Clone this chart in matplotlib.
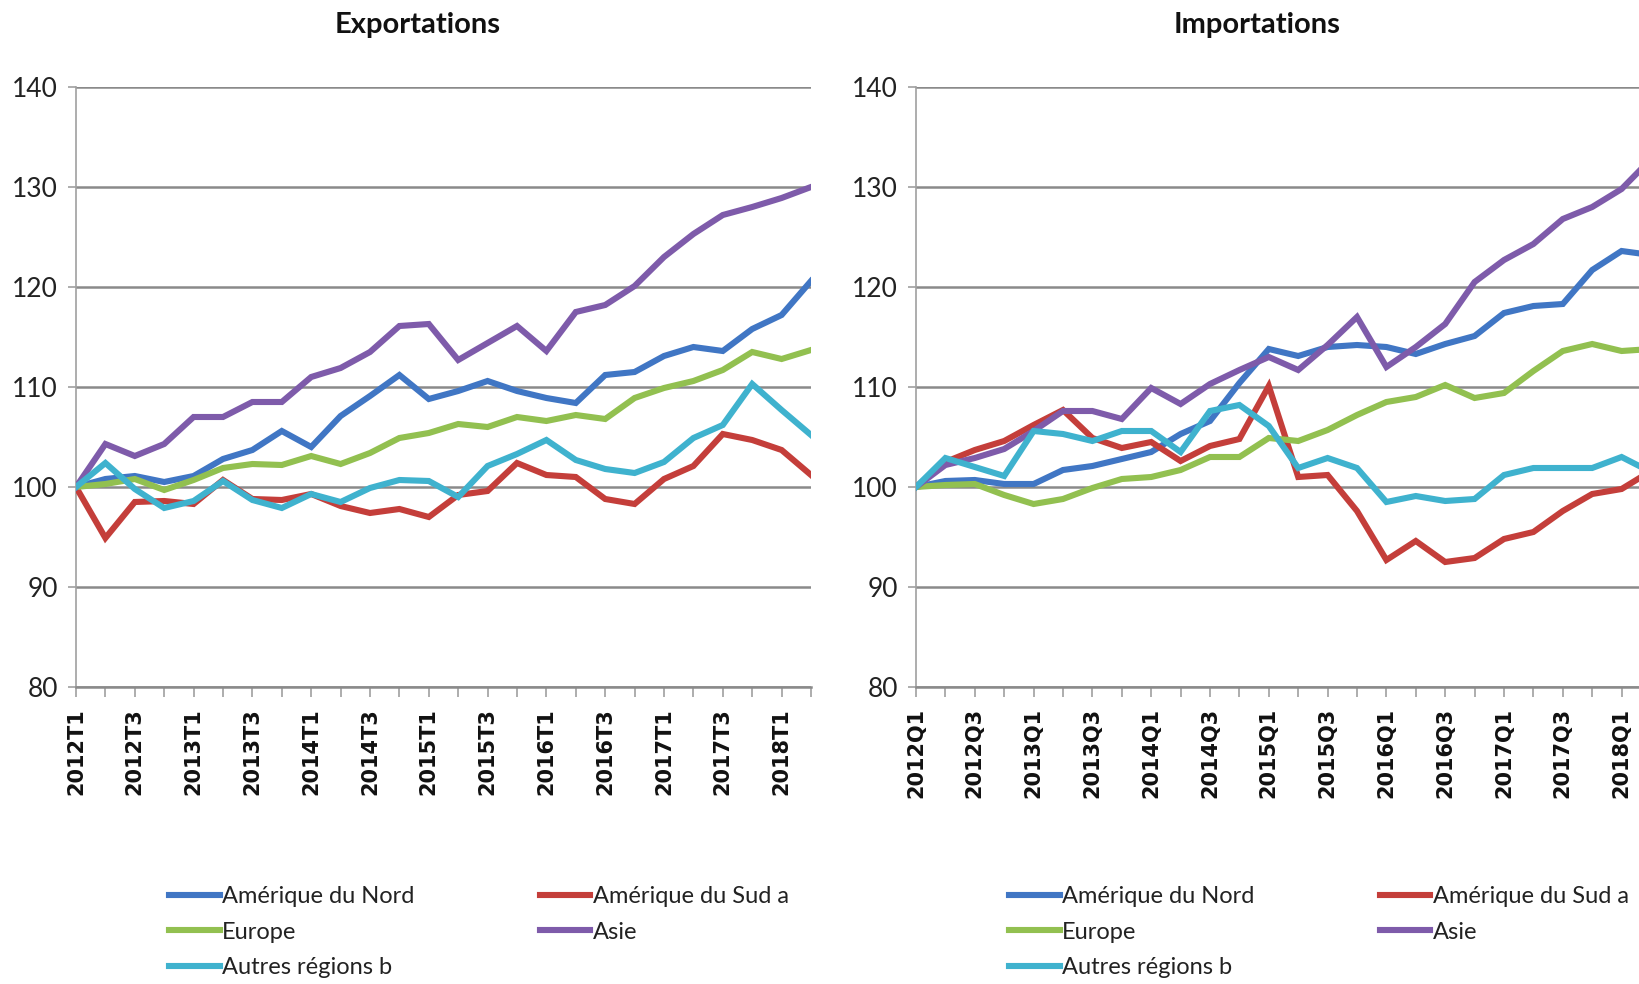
import matplotlib
matplotlib.use("Agg")
import matplotlib.pyplot as plt
import numpy as np

# quarters 2012Q1 .. 2018Q2
N_Q = 26
labels_t = ["2012T1", "2012T3", "2013T1", "2013T3", "2014T1", "2014T3", "2015T1",
            "2015T3", "2016T1", "2016T3", "2017T1", "2017T3", "2018T1"]
labels_q = ["2012Q1", "2012Q3", "2013Q1", "2013Q3", "2014Q1", "2014Q3", "2015Q1",
            "2015Q3", "2016Q1", "2016Q3", "2017Q1", "2017Q3", "2018Q1"]

series_names = ["Amérique du Nord", "Amérique du Sud a", "Europe", "Asie", "Autres régions b"]

# Exportations
exp_nord = [100, 100.8, 101.1, 100.5, 101.1, 102.8, 103.7, 105.6, 104.0, 107.1, 109.1, 111.2, 108.8,
            109.6, 110.6, 109.6, 108.9, 108.4, 111.2, 111.5, 113.1, 114.0, 113.6, 115.8, 117.2, 120.6]
exp_sud = [100, 94.9, 98.5, 98.6, 98.3, 100.7, 98.8, 98.7, 99.3, 98.1, 97.4, 97.8, 97.0,
           99.2, 99.6, 102.4, 101.2, 101.0, 98.8, 98.3, 100.8, 102.1, 105.3, 104.7, 103.7, 101.2]
exp_europe = [100, 100.3, 100.8, 99.7, 100.7, 101.9, 102.3, 102.2, 103.1, 102.3, 103.4, 104.9, 105.4,
              106.3, 106.0, 107.0, 106.6, 107.2, 106.8, 108.9, 109.9, 110.6, 111.7, 113.5, 112.8, 113.7]
exp_asie = [100, 104.3, 103.1, 104.3, 107.0, 107.0, 108.5, 108.5, 111.0, 111.9, 113.5, 116.1, 116.3,
            112.7, 114.4, 116.1, 113.6, 117.5, 118.2, 120.1, 123.0, 125.3, 127.2, 128.0, 128.9, 130.0]
exp_autres = [100, 102.4, 99.8, 97.9, 98.6, 100.6, 98.7, 97.9, 99.3, 98.5, 99.9, 100.7, 100.6,
              99.0, 102.1, 103.3, 104.7, 102.7, 101.8, 101.4, 102.5, 104.9, 106.2, 110.3, 107.7, 105.2]

# Importations
imp_nord = [100, 100.6, 100.7, 100.3, 100.3, 101.7, 102.1, 102.8, 103.5, 105.3, 106.6, 110.4, 113.8,
            113.1, 114.0, 114.2, 114.0, 113.3, 114.3, 115.1, 117.4, 118.1, 118.3, 121.7, 123.6, 123.2]
imp_sud = [100, 102.5, 103.7, 104.6, 106.2, 107.7, 104.9, 103.9, 104.5, 102.6, 104.1, 104.8, 110.1,
           101.0, 101.2, 97.6, 92.7, 94.6, 92.5, 92.9, 94.8, 95.5, 97.6, 99.3, 99.8, 101.6]
imp_europe = [100, 100.2, 100.3, 99.2, 98.3, 98.8, 99.9, 100.8, 101.0, 101.7, 103.0, 103.0, 104.9,
              104.6, 105.7, 107.2, 108.5, 109.0, 110.2, 108.9, 109.4, 111.6, 113.6, 114.3, 113.6, 113.8]
imp_asie = [100, 102.2, 102.9, 103.8, 105.6, 107.6, 107.6, 106.8, 109.9, 108.3, 110.3, 111.7, 113.0,
            111.7, 114.2, 117.0, 112.0, 114.0, 116.3, 120.5, 122.7, 124.3, 126.8, 128.0, 129.8, 132.8]
imp_autres = [100, 102.9, 102.0, 101.1, 105.6, 105.3, 104.6, 105.6, 105.6, 103.5, 107.6, 108.2, 106.1,
              101.9, 102.9, 101.9, 98.5, 99.1, 98.6, 98.8, 101.2, 101.9, 101.9, 101.9, 103.0, 101.5]

COLORS = ["#4076C4", "#C43E3A", "#92C050", "#7E5BAA", "#3FB2CE"]
SANS = "Lato"
GRID = "#8a8a8a"

W, H = 1639, 984
fig = plt.figure(figsize=(W / 100, H / 100), dpi=100)

panels = [
    ("Exportations", [exp_nord, exp_sud, exp_europe, exp_asie, exp_autres], labels_t, 76),
    ("Importations", [imp_nord, imp_sud, imp_europe, imp_asie, imp_autres], labels_q, 916),
]

x = np.arange(N_Q)
ax_w = 735
for title, data, tlabels, left_px in panels:
    ax = fig.add_axes([left_px / W, 1 - 687 / H, ax_w / W, 600 / H])
    for name, vals, col in zip(series_names, data, COLORS):
        ax.plot(x, vals, color=col, lw=4.4, label=name, solid_joinstyle="miter", zorder=3)
    ax.set_xlim(0, N_Q - 1)
    ax.set_ylim(80, 140)
    ax.set_yticks(range(80, 141, 10))
    ax.yaxis.grid(True, color=GRID, lw=1.8, zorder=1)
    ax.set_xticks(x, [tlabels[i // 2] if i % 2 == 0 else "" for i in x])
    for s in ["top", "right"]:
        ax.spines[s].set_visible(False)
    ax.spines["left"].set_color("#a0a0a0")
    ax.spines["left"].set_linewidth(1.2)
    ax.spines["bottom"].set_color(GRID)
    ax.spines["bottom"].set_linewidth(1.8)
    ax.tick_params(axis="x", length=7, width=1.2, color="#a0a0a0", pad=8,
                   labelrotation=90, labelsize=15, labelcolor="#111111")
    ax.tick_params(axis="y", length=6, width=1.2, color="#a0a0a0", pad=7,
                   labelsize=19, labelcolor="#222222")
    for lab in ax.get_yticklabels():
        lab.set_family(SANS)
    for lab in ax.get_xticklabels():
        lab.set_family("DejaVu Sans")
        lab.set_fontweight("bold")
    fig.text((left_px + ax_w / 2 - 26) / W, 1 - 25 / H, title, ha="center", va="center",
             fontsize=21, fontweight="bold", family=SANS, color="#111111")

    handles, labs = ax.get_legend_handles_labels()
    order = [0, 2, 4, 1, 3]
    leg = fig.legend([handles[i] for i in order], [labs[i] for i in order],
                     loc="upper left", bbox_to_anchor=((left_px + 93) / W, 1 - 886 / H),
                     ncol=2, frameon=False, borderpad=0, borderaxespad=0,
                     handlelength=2.15, handletextpad=0.1, columnspacing=5.3,
                     labelspacing=0.62, prop={"family": SANS, "size": 17})
    for t in leg.get_texts():
        t.set_color("#222222")

fig.savefig("out.png", dpi=100)
